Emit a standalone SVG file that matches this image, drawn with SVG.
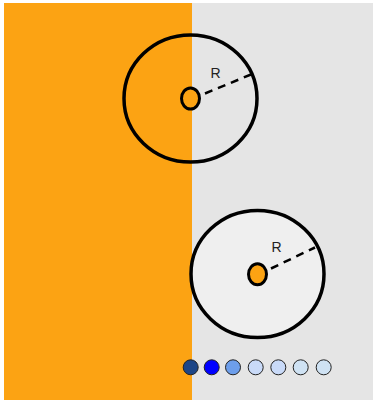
<svg xmlns="http://www.w3.org/2000/svg" width="374" height="403" viewBox="0 0 374 403">
<style>
.ring{stroke:#000;stroke-width:3.5}
.core{fill:#fca313;stroke:#000;stroke-width:3}
.rad{stroke:#000;stroke-width:2.5;stroke-dasharray:8,6;fill:none}
.lbl{font-family:"Liberation Sans",Arial,sans-serif;font-size:14px;fill:#222;text-anchor:middle}
.dot{stroke:#222;stroke-width:1}
</style>
<rect x="4" y="3" width="188" height="397" fill="#fca313"/>
<rect x="192" y="3" width="181" height="397" fill="#e5e5e5"/>
<g id="circle1">
<ellipse class="ring" cx="190.5" cy="98.5" rx="66.5" ry="63.5" fill="none"/>
<ellipse class="core" cx="190.5" cy="98.5" rx="9" ry="10.5"/>
</g>
<g id="circle2">
<ellipse class="ring" cx="257.5" cy="274" rx="66.5" ry="63.5" fill="#efefef"/>
<ellipse class="core" cx="257.5" cy="274.3" rx="9" ry="10.5"/>
</g>
<g id="connectors">
<line class="rad" x1="205" y1="93.5" x2="251" y2="74.5"/>
<line class="rad" x1="271" y1="268.5" x2="315" y2="247.5"/>
</g>
<g id="labels">
<text class="lbl" x="215.5" y="78">R</text>
<text class="lbl" x="276.5" y="252">R</text>
</g>
<g id="legend">
<circle class="dot" cx="190.7" cy="367.3" r="7.5" fill="#1c4587"/>
<circle class="dot" cx="211.7" cy="367.3" r="7.5" fill="#0000ff"/>
<circle class="dot" cx="233" cy="367.3" r="7.5" fill="#6d9eeb"/>
<circle class="dot" cx="255.7" cy="367.3" r="7.5" fill="#c9daf8"/>
<circle class="dot" cx="278.3" cy="367.3" r="7.5" fill="#c9daf8"/>
<circle class="dot" cx="300.7" cy="367.3" r="7.5" fill="#cfe2f3"/>
<circle class="dot" cx="323.7" cy="367.3" r="7.5" fill="#cfe2f3"/>
</g>
</svg>
